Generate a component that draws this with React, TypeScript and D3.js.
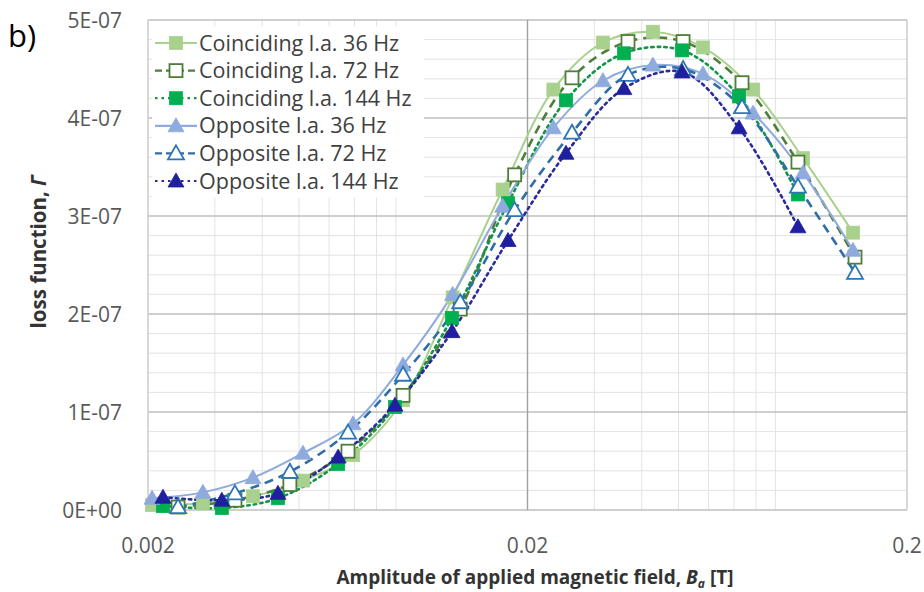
import React from 'react'
import * as d3 from 'd3'

// amplitudes [T] per frequency
const x36 = [0.00205, 0.00279, 0.00378, 0.00512, 0.00694, 0.0094, 0.0127, 0.0172, 0.0234, 0.0316, 0.0428, 0.058, 0.0786, 0.1064, 0.1441]
const x72 = [0.0024, 0.00339, 0.00473, 0.00673, 0.0094, 0.0133, 0.0185, 0.0262, 0.0368, 0.0514, 0.0735, 0.1032, 0.1459]
const x144 = [0.00219, 0.00313, 0.0044, 0.00634, 0.00895, 0.01265, 0.01777, 0.02526, 0.0359, 0.0511, 0.0722, 0.1032]

// loss function values, in units of 1E-07
const coin36 = [0.05, 0.07, 0.14, 0.3, 0.56, 1.12, 2.17, 3.27, 4.29, 4.77, 4.88, 4.72, 4.29, 3.59, 2.83]
const coin72 = [0.03, 0.1, 0.26, 0.6, 1.17, 2.05, 3.42, 4.41, 4.78, 4.78, 4.36, 3.55, 2.58]
const coin144 = [0.04, 0.02, 0.12, 0.47, 1.05, 1.96, 3.13, 4.18, 4.66, 4.69, 4.22, 3.22]
const opp36 = [0.12, 0.18, 0.33, 0.58, 0.88, 1.48, 2.2, 3.1, 3.9, 4.38, 4.54, 4.45, 4.05, 3.44, 2.65]
const opp72 = [0.03, 0.17, 0.39, 0.79, 1.38, 2.12, 3.06, 3.85, 4.44, 4.5, 4.11, 3.3, 2.42]
const opp144 = [0.13, 0.1, 0.17, 0.54, 1.07, 1.82, 2.75, 3.64, 4.3, 4.47, 3.9, 2.89]

const yTicks = [0, 1e-7, 2e-7, 3e-7, 4e-7, 5e-7]
const yTickLabels = ['0E+00', '1E-07', '2E-07', '3E-07', '4E-07', '5E-07']
const xTicks = [0.002, 0.02, 0.2]
const xTickLabels = ['0.002', '0.02', '0.2']

type Series = {
  name: string
  xs: number[]
  ys: number[]
  color: string
  lineColor: string
  dash: string
  marker: 'square' | 'triangle'
  filled: boolean
}

const series: Series[] = [
  { name: 'Coinciding l.a. 36 Hz', xs: x36, ys: coin36, color: '#a9d18e', lineColor: '#a9d18e', dash: '', marker: 'square', filled: true },
  { name: 'Coinciding l.a. 72 Hz', xs: x72, ys: coin72, color: '#4f7d3a', lineColor: '#4f7d3a', dash: '9,6', marker: 'square', filled: false },
  { name: 'Coinciding l.a. 144 Hz', xs: x144, ys: coin144, color: '#00b050', lineColor: '#13944a', dash: '2.5,4', marker: 'square', filled: true },
  { name: 'Opposite l.a. 36 Hz', xs: x36, ys: opp36, color: '#8faadc', lineColor: '#8faadc', dash: '', marker: 'triangle', filled: true },
  { name: 'Opposite l.a. 72 Hz', xs: x72, ys: opp72, color: '#2e75b6', lineColor: '#2e6ea6', dash: '9,6', marker: 'triangle', filled: false },
  { name: 'Opposite l.a. 144 Hz', xs: x144, ys: opp144, color: '#1f1fa0', lineColor: '#2a2a9a', dash: '2.5,4', marker: 'triangle', filled: true }
]

const W = 924
const H = 592
const margin = { left: 148, right: 17, top: 20, bottom: 82 }

const Marker = ({ s, cx, cy }: { s: Series, cx: number, cy: number }) => {
  const fill = s.filled ? s.color : '#fff'
  const sw = s.filled ? 0.8 : 1.8
  if (s.marker === 'square') {
    const r = 6.5
    return <rect x={cx - r} y={cy - r} width={2 * r} height={2 * r} fill={fill} stroke={s.color} strokeWidth={sw} />
  }
  const r = 8
  const pts = [[cx, cy - r], [cx + r, cy + r * 0.75], [cx - r, cy + r * 0.75]].map((p) => p.join(',')).join(' ')
  return <polygon points={pts} fill={fill} stroke={s.color} strokeWidth={sw} strokeLinejoin='miter' />
}

export default function App () {
  const x = d3.scaleLog().domain([0.002, 0.2]).range([margin.left, W - margin.right])
  const y = d3.scaleLinear().domain([0, 5e-7]).range([H - margin.bottom, margin.top])

  // log minor gridlines (2..9 per decade)
  const minorXs: number[] = []
  for (const dec of [0.001, 0.01, 0.1]) {
    for (let k = 2; k <= 9; k++) {
      const v = dec * k
      if (v > 0.0021 && v < 0.199 && Math.abs(v - 0.02) > 1e-6) minorXs.push(v)
    }
  }
  const minorY = d3.range(0, 5e-7, 2e-8).filter((_, i) => i % 5 !== 0)

  const line = d3.line<[number, number]>()
    .x((d) => x(d[0]))
    .y((d) => y(d[1] * 1e-7))
    .curve(d3.curveCatmullRom.alpha(0.5))

  const font = "'Open Sans', 'DejaVu Sans', sans-serif"
  const legendY0 = 43
  const legendStep = 27.6

  return (
    <svg width={W} height={H} style={{ display: 'block', position: 'absolute', left: 0, top: 0 }} fontFamily={font}>
      <rect width={W} height={H} fill='#fff' />
      <text x={8} y={47} fontSize={31} fill='#000'>b)</text>

      {/* minor gridlines */}
      <g stroke='#e3e3e3' strokeWidth={1}>
        {minorXs.map((v, i) => (
          <line key={'mx' + i} x1={x(v)} x2={x(v)} y1={y(0)} y2={y(5e-7)} />
        ))}
        {minorY.map((v, i) => (
          <line key={'my' + i} x1={x(0.002)} x2={x(0.2)} y1={y(v)} y2={y(v)} />
        ))}
      </g>
      {/* major gridlines */}
      <g stroke='#bfbfbf' strokeWidth={1.6}>
        {yTicks.map((v, i) => (
          <line key={'gy' + i} x1={x(0.002)} x2={x(0.2)} y1={y(v)} y2={y(v)} />
        ))}
      </g>
      <g strokeWidth={1.4}>
        {xTicks.map((v, i) => (
          <line key={'gx' + i} x1={x(v)} x2={x(v)} y1={y(0)} y2={y(5e-7)} stroke={i === 1 ? '#a0a0a0' : '#c8c8c8'} />
        ))}
      </g>

      {/* legend background */}
      <rect x={152} y={26} width={272} height={172} fill='#fff' />

      {/* series */}
      {series.map((s, si) => {
        const pts = s.xs.map((v, i) => [v, s.ys[i]] as [number, number])
        return (
          <path key={'s' + si} d={line(pts) || ''} fill='none' stroke={s.lineColor} strokeWidth={s.dash === '' ? 2 : 2.6}
            strokeDasharray={s.dash || undefined} strokeLinecap={s.dash.startsWith('2') ? 'round' : 'butt'} />
        )
      })}
      {series.map((s, si) => (
        <g key={'m' + si}>
          {s.xs.map((v, i) => (
            <Marker key={i} s={s} cx={x(v)} cy={y(s.ys[i] * 1e-7)} />
          ))}
        </g>
      ))}

      {/* legend */}
      {series.map((s, i) => {
        const ly = legendY0 + i * legendStep
        return (
          <g key={'l' + i}>
            <line x1={155} x2={197} y1={ly} y2={ly} stroke={s.lineColor} strokeWidth={2.2}
              strokeDasharray={s.dash ? (s.dash.startsWith('2') ? '2.5,4' : '7,4') : undefined} />
            <Marker s={s} cx={176} cy={ly} />
            <text x={199} y={ly + 7.5} fontSize={21.5} fill='#404040'>{s.name}</text>
          </g>
        )
      })}

      {/* axes labels */}
      {yTicks.map((v, i) => (
        <text key={'yl' + i} x={122} y={y(v) + 7.5} fontSize={21} fill='#595959' textAnchor='end'>{yTickLabels[i]}</text>
      ))}
      {xTicks.map((v, i) => (
        <text key={'xl' + i} x={x(v)} y={553} fontSize={21} fill='#595959' textAnchor='middle'>{xTickLabels[i]}</text>
      ))}
      <text x={535} y={584} fontSize={19} fontWeight='bold' fill='#333' textAnchor='middle'>
        Amplitude of applied magnetic field, <tspan fontStyle='italic'>B</tspan><tspan fontStyle='italic' fontSize={12} dy={4}>a</tspan><tspan dy={-4}> [T]</tspan>
      </text>
      <text transform='translate(46,252) rotate(-90)' fontSize={20.5} fontWeight='bold' fill='#333' textAnchor='middle'>
        loss function, <tspan fontStyle='italic'>Γ</tspan>
      </text>
    </svg>
  )
}
